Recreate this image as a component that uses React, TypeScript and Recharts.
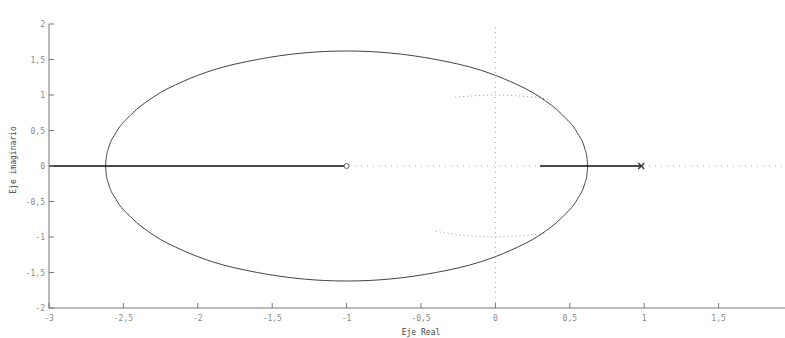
import React from "react";
import {
  ComposedChart,
  Line,
  Scatter,
  XAxis,
  YAxis,
  ReferenceLine,
} from "recharts";

// root locus branches (circle around the zero at -1)
const upperBranch = [
  { x: -2.62, y: 0 },
  { x: -2.615, y: 0.12 },
  { x: -2.6, y: 0.25 },
  { x: -2.55, y: 0.47 },
  { x: -2.45, y: 0.72 },
  { x: -2.3, y: 0.97 },
  { x: -2.1, y: 1.19 },
  { x: -1.9, y: 1.35 },
  { x: -1.6, y: 1.5 },
  { x: -1.3, y: 1.59 },
  { x: -1.0, y: 1.62 },
  { x: -0.7, y: 1.59 },
  { x: -0.4, y: 1.5 },
  { x: -0.1, y: 1.35 },
  { x: 0.1, y: 1.19 },
  { x: 0.3, y: 0.97 },
  { x: 0.45, y: 0.72 },
  { x: 0.55, y: 0.47 },
  { x: 0.6, y: 0.25 },
  { x: 0.615, y: 0.12 },
  { x: 0.62, y: 0 },
];

const lowerBranch = [
  { x: -2.62, y: 0 },
  { x: -2.615, y: -0.12 },
  { x: -2.6, y: -0.25 },
  { x: -2.55, y: -0.47 },
  { x: -2.45, y: -0.72 },
  { x: -2.3, y: -0.97 },
  { x: -2.1, y: -1.19 },
  { x: -1.9, y: -1.35 },
  { x: -1.6, y: -1.5 },
  { x: -1.3, y: -1.59 },
  { x: -1.0, y: -1.62 },
  { x: -0.7, y: -1.59 },
  { x: -0.4, y: -1.5 },
  { x: -0.1, y: -1.35 },
  { x: 0.1, y: -1.19 },
  { x: 0.3, y: -0.97 },
  { x: 0.45, y: -0.72 },
  { x: 0.55, y: -0.47 },
  { x: 0.6, y: -0.25 },
  { x: 0.615, y: -0.12 },
  { x: 0.62, y: 0 },
];

// segments on the real axis
const leftRealSegment = [
  { x: -3, y: 0 },
  { x: -1, y: 0 },
];
const rightRealSegment = [
  { x: 0.3, y: 0 },
  { x: 0.98, y: 0 },
];

// faint dotted arcs (unit circle grid)
const dottedTop = [
  { x: -0.27, y: 0.97 },
  { x: -0.1, y: 0.995 },
  { x: 0, y: 1 },
  { x: 0.1, y: 0.995 },
  { x: 0.26, y: 0.97 },
  { x: 0.36, y: 0.94 },
];
const dottedBottom = [
  { x: -0.4, y: -0.92 },
  { x: -0.26, y: -0.97 },
  { x: -0.1, y: -0.995 },
  { x: 0, y: -1 },
  { x: 0.1, y: -0.995 },
  { x: 0.26, y: -0.97 },
  { x: 0.34, y: -0.94 },
];

const zeros = [{ x: -1, y: 0 }];
const poles = [{ x: 0.98, y: 0 }];

const xTicks = [-3, -2.5, -2, -1.5, -1, -0.5, 0, 0.5, 1, 1.5];
const yTicks = [-2, -1.5, -1, -0.5, 0, 0.5, 1, 1.5, 2];

const FONT = "DejaVu Sans Mono";
const AXIS = "#777";
const fmt = (v: number) => String(v).replace(".", ",");

const BottomTick = (props: any) => {
  const { x, y, payload } = props;
  return (
    <g>
      <line x1={x} y1={y} x2={x} y2={y - 5} stroke={AXIS} />
      <text x={x} y={y + 13} textAnchor="middle" fontSize={8} fontFamily={FONT} fill="#888">
        {fmt(payload.value)}
      </text>
    </g>
  );
};

const TopTick = (props: any) => {
  const { x, y } = props;
  return <line x1={x} y1={y} x2={x} y2={y + 5} stroke={AXIS} />;
};

const LeftTick = (props: any) => {
  const { x, y, payload } = props;
  return (
    <g>
      <line x1={x} y1={y} x2={x + 5} y2={y} stroke={AXIS} />
      <text x={x - 4} y={y + 3} textAnchor="end" fontSize={8} fontFamily={FONT} fill="#888">
        {fmt(payload.value)}
      </text>
    </g>
  );
};

const ZeroMark = (props: any) => (
  <circle cx={props.cx} cy={props.cy} r={2.5} fill="#fff" stroke="#666" />
);

const PoleMark = (props: any) => {
  const { cx, cy } = props;
  return (
    <g stroke="#333" strokeWidth={1.3}>
      <line x1={cx - 3} y1={cy - 3} x2={cx + 3} y2={cy + 3} />
      <line x1={cx - 3} y1={cy + 3} x2={cx + 3} y2={cy - 3} />
    </g>
  );
};

export default function App() {
  return (
    <div style={{ position: "absolute", left: 0, top: 0, width: 785, height: 338, overflow: "hidden", background: "#fff" }}>
      <ComposedChart width={800} height={338} margin={{ top: 24, right: 7, bottom: 0, left: 0 }}>
        <XAxis
          type="number"
          dataKey="x"
          domain={[-3, 2]}
          ticks={xTicks}
          allowDataOverflow
          height={30}
          stroke={AXIS}
          tickLine={false}
          tickSize={0}
          tickMargin={0}
          tick={<BottomTick />}
          label={{
            content: () => (
              <text x={421} y={335} textAnchor="middle" fontSize={8} fontFamily={FONT} fill="#444">
                Eje Real
              </text>
            ),
          }}
        />
        <XAxis
          xAxisId="top"
          orientation="top"
          type="number"
          dataKey="x"
          domain={[-3, 2]}
          ticks={xTicks}
          allowDataOverflow
          height={0}
          stroke={AXIS}
          tickLine={false}
          tickSize={0}
          tickMargin={0}
          tick={<TopTick />}
          label={{
            content: () => (
              <text x={420} y={19} textAnchor="middle" fontSize={8} fontFamily={FONT} fill="#333">
                Lugar de las raices con compensador en adelanto
              </text>
            ),
          }}
        />
        <YAxis
          type="number"
          dataKey="y"
          domain={[-2, 2]}
          ticks={yTicks}
          allowDataOverflow
          width={49}
          stroke={AXIS}
          tickLine={false}
          tickSize={0}
          tickMargin={0}
          tick={<LeftTick />}
          label={{
            content: () => (
              <text x={16} y={160} transform="rotate(-90 16 160)" textAnchor="middle" fontSize={8} fontFamily={FONT} fill="#444">
                Eje imaginario
              </text>
            ),
          }}
        />
        <ReferenceLine x={0} stroke="#aaa" strokeDasharray="1 4" />
        <ReferenceLine y={0} stroke="#aaa" strokeDasharray="1 5" />
        <Line data={dottedTop} dataKey="y" stroke="#999" strokeDasharray="1 3" dot={false} isAnimationActive={false} />
        <Line data={dottedBottom} dataKey="y" stroke="#999" strokeDasharray="1 3" dot={false} isAnimationActive={false} />
        <Line data={upperBranch} dataKey="y" type="monotone" stroke="#444" strokeWidth={1} dot={false} isAnimationActive={false} />
        <Line data={lowerBranch} dataKey="y" type="monotone" stroke="#444" strokeWidth={1} dot={false} isAnimationActive={false} />
        <Line data={leftRealSegment} dataKey="y" stroke="#111" strokeWidth={1.5} dot={false} isAnimationActive={false} />
        <Line data={rightRealSegment} dataKey="y" stroke="#111" strokeWidth={1.5} dot={false} isAnimationActive={false} />
        <Scatter data={zeros} shape={<ZeroMark />} isAnimationActive={false} />
        <Scatter data={poles} shape={<PoleMark />} isAnimationActive={false} />
      </ComposedChart>
    </div>
  );
}
